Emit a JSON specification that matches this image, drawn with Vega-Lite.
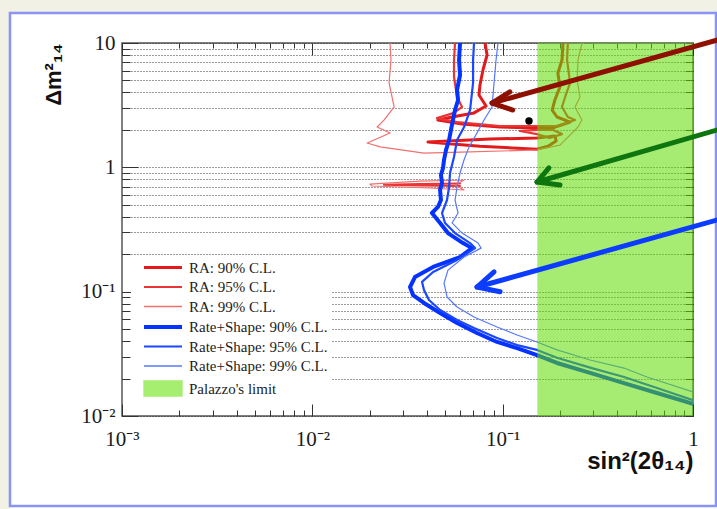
{
  "$schema": "https://vega.github.io/schema/vega-lite/v6.json",
  "width": 571,
  "height": 373,
  "autosize": {"type": "none"},
  "padding": {"left": 122, "top": 43, "right": 24, "bottom": 93},
  "background": "white",
  "view": {"stroke": "#555", "strokeWidth": 1.5},
  "config": {"font": "Liberation Sans"},
  "resolve": {"axis": {"x": "independent", "y": "independent"}},
  "datasets": {
    "strip": [{"x": 0.0002286, "x2": 1.509, "y": 0.001484, "y2": 21.37}],
    "frame": [{"x": 0.0002579, "x2": 1.321, "y": 0.001888, "y2": 17.43}],
    "limit": [{"x": 0.152, "x2": 1, "y": 0.01, "y2": 10}],
    "dot": [{"x": 0.1375, "y": 2.36}],
    "arrows": [
      {"a": "red", "p": "shaft", "i": 0, "x": 1.564, "y": 11.3},
      {"a": "red", "p": "shaft", "i": 1, "x": 0.0879, "y": 3.29},
      {"a": "red", "p": "head", "i": 0, "x": 0.109, "y": 4.04},
      {"a": "red", "p": "head", "i": 1, "x": 0.0879, "y": 3.29},
      {"a": "red", "p": "head", "i": 2, "x": 0.113, "y": 2.89},
      {"a": "green", "p": "shaft", "i": 0, "x": 1.564, "y": 2.14},
      {"a": "green", "p": "shaft", "i": 1, "x": 0.1515, "y": 0.762},
      {"a": "green", "p": "head", "i": 0, "x": 0.175, "y": 0.988},
      {"a": "green", "p": "head", "i": 1, "x": 0.1515, "y": 0.762},
      {"a": "green", "p": "head", "i": 2, "x": 0.2, "y": 0.721},
      {"a": "blue", "p": "shaft", "i": 0, "x": 1.564, "y": 0.403},
      {"a": "blue", "p": "shaft", "i": 1, "x": 0.0733, "y": 0.109},
      {"a": "blue", "p": "head", "i": 0, "x": 0.0901, "y": 0.144},
      {"a": "blue", "p": "head", "i": 1, "x": 0.0733, "y": 0.109},
      {"a": "blue", "p": "head", "i": 2, "x": 0.0969, "y": 0.0999}
    ],
    "contours": [
      {"s": "RA: 90% C.L.", "g": "RA90a", "i": 0, "x": 0.0808, "y": 10},
      {"s": "RA: 90% C.L.", "g": "RA90a", "i": 1, "x": 0.0828, "y": 8.01},
      {"s": "RA: 90% C.L.", "g": "RA90a", "i": 2, "x": 0.0788, "y": 6.07},
      {"s": "RA: 90% C.L.", "g": "RA90a", "i": 3, "x": 0.076, "y": 4.59},
      {"s": "RA: 90% C.L.", "g": "RA90a", "i": 4, "x": 0.0751, "y": 3.82},
      {"s": "RA: 90% C.L.", "g": "RA90a", "i": 5, "x": 0.0818, "y": 3.11},
      {"s": "RA: 90% C.L.", "g": "RA90a", "i": 6, "x": 0.0707, "y": 2.74},
      {"s": "RA: 90% C.L.", "g": "RA90a", "i": 7, "x": 0.0542, "y": 2.54},
      {"s": "RA: 90% C.L.", "g": "RA90a", "i": 8, "x": 0.0457, "y": 2.4},
      {"s": "RA: 90% C.L.", "g": "RA90a", "i": 9, "x": 0.0612, "y": 2.23},
      {"s": "RA: 90% C.L.", "g": "RA90a", "i": 10, "x": 0.0969, "y": 2.11},
      {"s": "RA: 90% C.L.", "g": "RA90a", "i": 11, "x": 0.1515, "y": 2.07},
      {"s": "RA: 90% C.L.", "g": "RA90a", "i": 12, "x": 0.182, "y": 2.07},
      {"s": "RA: 90% C.L.", "g": "RA90a", "i": 13, "x": 0.226, "y": 2.31},
      {"s": "RA: 90% C.L.", "g": "RA90a", "i": 14, "x": 0.193, "y": 2.54},
      {"s": "RA: 90% C.L.", "g": "RA90a", "i": 15, "x": 0.182, "y": 2.89},
      {"s": "RA: 90% C.L.", "g": "RA90a", "i": 16, "x": 0.188, "y": 3.48},
      {"s": "RA: 90% C.L.", "g": "RA90a", "i": 17, "x": 0.2, "y": 4.43},
      {"s": "RA: 90% C.L.", "g": "RA90a", "i": 18, "x": 0.195, "y": 5.74},
      {"s": "RA: 90% C.L.", "g": "RA90a", "i": 19, "x": 0.205, "y": 7.3},
      {"s": "RA: 90% C.L.", "g": "RA90a", "i": 20, "x": 0.2075, "y": 10},
      {"s": "RA: 90% C.L.", "g": "RA90b", "i": 0, "x": 0.1515, "y": 1.72},
      {"s": "RA: 90% C.L.", "g": "RA90b", "i": 1, "x": 0.0858, "y": 1.69},
      {"s": "RA: 90% C.L.", "g": "RA90b", "i": 2, "x": 0.0405, "y": 1.6},
      {"s": "RA: 90% C.L.", "g": "RA90b", "i": 3, "x": 0.076, "y": 1.48},
      {"s": "RA: 90% C.L.", "g": "RA90b", "i": 4, "x": 0.1515, "y": 1.4},
      {"s": "RA: 90% C.L.", "g": "RA90b", "i": 5, "x": 0.173, "y": 1.48},
      {"s": "RA: 90% C.L.", "g": "RA90b", "i": 6, "x": 0.191, "y": 1.63},
      {"s": "RA: 90% C.L.", "g": "RA90b", "i": 7, "x": 0.188, "y": 1.79},
      {"s": "RA: 90% C.L.", "g": "RA90b", "i": 8, "x": 0.167, "y": 1.75},
      {"s": "RA: 90% C.L.", "g": "RA90b", "i": 9, "x": 0.1515, "y": 1.72},
      {"s": "RA: 95% C.L.", "g": "RA95a", "i": 0, "x": 0.0562, "y": 10},
      {"s": "RA: 95% C.L.", "g": "RA95a", "i": 1, "x": 0.0555, "y": 7.3},
      {"s": "RA: 95% C.L.", "g": "RA95a", "i": 2, "x": 0.0555, "y": 5.33},
      {"s": "RA: 95% C.L.", "g": "RA95a", "i": 3, "x": 0.0576, "y": 3.68},
      {"s": "RA: 95% C.L.", "g": "RA95a", "i": 4, "x": 0.0612, "y": 3.06},
      {"s": "RA: 95% C.L.", "g": "RA95a", "i": 5, "x": 0.0555, "y": 2.74},
      {"s": "RA: 95% C.L.", "g": "RA95a", "i": 6, "x": 0.0452, "y": 2.49},
      {"s": "RA: 95% C.L.", "g": "RA95a", "i": 7, "x": 0.0576, "y": 2.31},
      {"s": "RA: 95% C.L.", "g": "RA95a", "i": 8, "x": 0.0969, "y": 2.15},
      {"s": "RA: 95% C.L.", "g": "RA95a", "i": 9, "x": 0.1515, "y": 2.15},
      {"s": "RA: 95% C.L.", "g": "RA95a", "i": 10, "x": 0.193, "y": 2.15},
      {"s": "RA: 95% C.L.", "g": "RA95a", "i": 11, "x": 0.24, "y": 2.4},
      {"s": "RA: 95% C.L.", "g": "RA95a", "i": 12, "x": 0.22, "y": 2.54},
      {"s": "RA: 95% C.L.", "g": "RA95a", "i": 13, "x": 0.205, "y": 3.06},
      {"s": "RA: 95% C.L.", "g": "RA95a", "i": 14, "x": 0.213, "y": 3.68},
      {"s": "RA: 95% C.L.", "g": "RA95a", "i": 15, "x": 0.226, "y": 4.77},
      {"s": "RA: 95% C.L.", "g": "RA95a", "i": 16, "x": 0.218, "y": 7.3},
      {"s": "RA: 95% C.L.", "g": "RA95a", "i": 17, "x": 0.22, "y": 10},
      {"s": "RA: 95% C.L.", "g": "RA95b", "i": 0, "x": 0.1515, "y": 2.0},
      {"s": "RA: 95% C.L.", "g": "RA95b", "i": 1, "x": 0.123, "y": 1.96},
      {"s": "RA: 95% C.L.", "g": "RA95b", "i": 2, "x": 0.1515, "y": 1.85},
      {"s": "RA: 95% C.L.", "g": "RA95b", "i": 3, "x": 0.177, "y": 1.72},
      {"s": "RA: 95% C.L.", "g": "RA95b", "i": 4, "x": 0.205, "y": 1.85},
      {"s": "RA: 95% C.L.", "g": "RA95b", "i": 5, "x": 0.184, "y": 2.0},
      {"s": "RA: 95% C.L.", "g": "RA95b", "i": 6, "x": 0.1515, "y": 2.0},
      {"s": "RA: 95% C.L.", "g": "RA95c", "i": 0, "x": 0.0597, "y": 0.741},
      {"s": "RA: 95% C.L.", "g": "RA95c", "i": 1, "x": 0.0368, "y": 0.732},
      {"s": "RA: 95% C.L.", "g": "RA95c", "i": 2, "x": 0.0238, "y": 0.724},
      {"s": "RA: 95% C.L.", "g": "RA95c", "i": 3, "x": 0.0368, "y": 0.716},
      {"s": "RA: 95% C.L.", "g": "RA95c", "i": 4, "x": 0.0597, "y": 0.708},
      {"s": "RA: 99% C.L.", "g": "RA99a", "i": 0, "x": 0.0256, "y": 10},
      {"s": "RA: 99% C.L.", "g": "RA99a", "i": 1, "x": 0.0259, "y": 7.3},
      {"s": "RA: 99% C.L.", "g": "RA99a", "i": 2, "x": 0.0253, "y": 4.77},
      {"s": "RA: 99% C.L.", "g": "RA99a", "i": 3, "x": 0.0269, "y": 3.06},
      {"s": "RA: 99% C.L.", "g": "RA99a", "i": 4, "x": 0.0238, "y": 2.4},
      {"s": "RA: 99% C.L.", "g": "RA99a", "i": 5, "x": 0.0219, "y": 2.11},
      {"s": "RA: 99% C.L.", "g": "RA99a", "i": 6, "x": 0.0256, "y": 1.89},
      {"s": "RA: 99% C.L.", "g": "RA99a", "i": 7, "x": 0.0211, "y": 1.66},
      {"s": "RA: 99% C.L.", "g": "RA99a", "i": 8, "x": 0.0194, "y": 1.57},
      {"s": "RA: 99% C.L.", "g": "RA99a", "i": 9, "x": 0.0227, "y": 1.46},
      {"s": "RA: 99% C.L.", "g": "RA99a", "i": 10, "x": 0.0386, "y": 1.3},
      {"s": "RA: 99% C.L.", "g": "RA99a", "i": 11, "x": 0.0674, "y": 1.33},
      {"s": "RA: 99% C.L.", "g": "RA99a", "i": 12, "x": 0.1515, "y": 1.38},
      {"s": "RA: 99% C.L.", "g": "RA99a", "i": 13, "x": 0.2, "y": 1.51},
      {"s": "RA: 99% C.L.", "g": "RA99a", "i": 14, "x": 0.249, "y": 2.11},
      {"s": "RA: 99% C.L.", "g": "RA99a", "i": 15, "x": 0.261, "y": 2.4},
      {"s": "RA: 99% C.L.", "g": "RA99a", "i": 16, "x": 0.249, "y": 2.74},
      {"s": "RA: 99% C.L.", "g": "RA99a", "i": 17, "x": 0.24, "y": 3.06},
      {"s": "RA: 99% C.L.", "g": "RA99a", "i": 18, "x": 0.255, "y": 3.68},
      {"s": "RA: 99% C.L.", "g": "RA99a", "i": 19, "x": 0.246, "y": 5.04},
      {"s": "RA: 99% C.L.", "g": "RA99a", "i": 20, "x": 0.249, "y": 7.3},
      {"s": "RA: 99% C.L.", "g": "RA99a", "i": 21, "x": 0.261, "y": 10},
      {"s": "RA: 99% C.L.", "g": "RA99b", "i": 0, "x": 0.0627, "y": 0.791},
      {"s": "RA: 99% C.L.", "g": "RA99b", "i": 1, "x": 0.0368, "y": 0.776},
      {"s": "RA: 99% C.L.", "g": "RA99b", "i": 2, "x": 0.0201, "y": 0.734},
      {"s": "RA: 99% C.L.", "g": "RA99b", "i": 3, "x": 0.0206, "y": 0.708},
      {"s": "RA: 99% C.L.", "g": "RA99b", "i": 4, "x": 0.0415, "y": 0.682},
      {"s": "RA: 99% C.L.", "g": "RA99b", "i": 5, "x": 0.0627, "y": 0.657},
      {"s": "RA: 99% C.L.", "g": "RA99b", "i": 6, "x": 0.0562, "y": 0.721},
      {"s": "RA: 99% C.L.", "g": "RA99b", "i": 7, "x": 0.0627, "y": 0.791},
      {"s": "Rate+Shape: 90% C.L.", "g": "RS90", "i": 0, "x": 0.0597, "y": 10},
      {"s": "Rate+Shape: 90% C.L.", "g": "RS90", "i": 1, "x": 0.059, "y": 7.3},
      {"s": "Rate+Shape: 90% C.L.", "g": "RS90", "i": 2, "x": 0.0597, "y": 5.53},
      {"s": "Rate+Shape: 90% C.L.", "g": "RS90", "i": 3, "x": 0.0576, "y": 4.19},
      {"s": "Rate+Shape: 90% C.L.", "g": "RS90", "i": 4, "x": 0.0583, "y": 3.48},
      {"s": "Rate+Shape: 90% C.L.", "g": "RS90", "i": 5, "x": 0.0562, "y": 2.89},
      {"s": "Rate+Shape: 90% C.L.", "g": "RS90", "i": 6, "x": 0.0548, "y": 2.4},
      {"s": "Rate+Shape: 90% C.L.", "g": "RS90", "i": 7, "x": 0.0535, "y": 2.0},
      {"s": "Rate+Shape: 90% C.L.", "g": "RS90", "i": 8, "x": 0.0523, "y": 1.66},
      {"s": "Rate+Shape: 90% C.L.", "g": "RS90", "i": 9, "x": 0.0504, "y": 1.38},
      {"s": "Rate+Shape: 90% C.L.", "g": "RS90", "i": 10, "x": 0.0492, "y": 1.15},
      {"s": "Rate+Shape: 90% C.L.", "g": "RS90", "i": 11, "x": 0.0486, "y": 0.988},
      {"s": "Rate+Shape: 90% C.L.", "g": "RS90", "i": 12, "x": 0.0474, "y": 0.868},
      {"s": "Rate+Shape: 90% C.L.", "g": "RS90", "i": 13, "x": 0.048, "y": 0.748},
      {"s": "Rate+Shape: 90% C.L.", "g": "RS90", "i": 14, "x": 0.0469, "y": 0.657},
      {"s": "Rate+Shape: 90% C.L.", "g": "RS90", "i": 15, "x": 0.0474, "y": 0.546},
      {"s": "Rate+Shape: 90% C.L.", "g": "RS90", "i": 16, "x": 0.0457, "y": 0.48},
      {"s": "Rate+Shape: 90% C.L.", "g": "RS90", "i": 17, "x": 0.0425, "y": 0.429},
      {"s": "Rate+Shape: 90% C.L.", "g": "RS90", "i": 18, "x": 0.0469, "y": 0.357},
      {"s": "Rate+Shape: 90% C.L.", "g": "RS90", "i": 19, "x": 0.0516, "y": 0.296},
      {"s": "Rate+Shape: 90% C.L.", "g": "RS90", "i": 20, "x": 0.0619, "y": 0.246},
      {"s": "Rate+Shape: 90% C.L.", "g": "RS90", "i": 21, "x": 0.069, "y": 0.224},
      {"s": "Rate+Shape: 90% C.L.", "g": "RS90", "i": 22, "x": 0.0597, "y": 0.19},
      {"s": "Rate+Shape: 90% C.L.", "g": "RS90", "i": 23, "x": 0.0431, "y": 0.158},
      {"s": "Rate+Shape: 90% C.L.", "g": "RS90", "i": 24, "x": 0.0346, "y": 0.131},
      {"s": "Rate+Shape: 90% C.L.", "g": "RS90", "i": 25, "x": 0.0326, "y": 0.109},
      {"s": "Rate+Shape: 90% C.L.", "g": "RS90", "i": 26, "x": 0.0338, "y": 0.094},
      {"s": "Rate+Shape: 90% C.L.", "g": "RS90", "i": 27, "x": 0.0386, "y": 0.0811},
      {"s": "Rate+Shape: 90% C.L.", "g": "RS90", "i": 28, "x": 0.0469, "y": 0.0674},
      {"s": "Rate+Shape: 90% C.L.", "g": "RS90", "i": 29, "x": 0.0576, "y": 0.056},
      {"s": "Rate+Shape: 90% C.L.", "g": "RS90", "i": 30, "x": 0.0733, "y": 0.0465},
      {"s": "Rate+Shape: 90% C.L.", "g": "RS90", "i": 31, "x": 0.0934, "y": 0.0394},
      {"s": "Rate+Shape: 90% C.L.", "g": "RS90", "i": 32, "x": 0.119, "y": 0.0352},
      {"s": "Rate+Shape: 90% C.L.", "g": "RS90", "i": 33, "x": 0.1515, "y": 0.0309},
      {"s": "Rate+Shape: 90% C.L.", "g": "RS90", "i": 34, "x": 0.193, "y": 0.0267},
      {"s": "Rate+Shape: 90% C.L.", "g": "RS90", "i": 35, "x": 0.288, "y": 0.0222},
      {"s": "Rate+Shape: 90% C.L.", "g": "RS90", "i": 36, "x": 0.434, "y": 0.0184},
      {"s": "Rate+Shape: 90% C.L.", "g": "RS90", "i": 37, "x": 0.647, "y": 0.0153},
      {"s": "Rate+Shape: 90% C.L.", "g": "RS90", "i": 38, "x": 1.0, "y": 0.0125},
      {"s": "Rate+Shape: 95% C.L.", "g": "RS95", "i": 0, "x": 0.0707, "y": 10},
      {"s": "Rate+Shape: 95% C.L.", "g": "RS95", "i": 1, "x": 0.0699, "y": 7.3},
      {"s": "Rate+Shape: 95% C.L.", "g": "RS95", "i": 2, "x": 0.0699, "y": 4.77},
      {"s": "Rate+Shape: 95% C.L.", "g": "RS95", "i": 3, "x": 0.0674, "y": 2.89},
      {"s": "Rate+Shape: 95% C.L.", "g": "RS95", "i": 4, "x": 0.0627, "y": 2.11},
      {"s": "Rate+Shape: 95% C.L.", "g": "RS95", "i": 5, "x": 0.0576, "y": 1.66},
      {"s": "Rate+Shape: 95% C.L.", "g": "RS95", "i": 6, "x": 0.0555, "y": 1.21},
      {"s": "Rate+Shape: 95% C.L.", "g": "RS95", "i": 7, "x": 0.0529, "y": 0.9},
      {"s": "Rate+Shape: 95% C.L.", "g": "RS95", "i": 8, "x": 0.0523, "y": 0.695},
      {"s": "Rate+Shape: 95% C.L.", "g": "RS95", "i": 9, "x": 0.051, "y": 0.546},
      {"s": "Rate+Shape: 95% C.L.", "g": "RS95", "i": 10, "x": 0.048, "y": 0.429},
      {"s": "Rate+Shape: 95% C.L.", "g": "RS95", "i": 11, "x": 0.0498, "y": 0.357},
      {"s": "Rate+Shape: 95% C.L.", "g": "RS95", "i": 12, "x": 0.0562, "y": 0.296},
      {"s": "Rate+Shape: 95% C.L.", "g": "RS95", "i": 13, "x": 0.0674, "y": 0.246},
      {"s": "Rate+Shape: 95% C.L.", "g": "RS95", "i": 14, "x": 0.0716, "y": 0.224},
      {"s": "Rate+Shape: 95% C.L.", "g": "RS95", "i": 15, "x": 0.0576, "y": 0.18},
      {"s": "Rate+Shape: 95% C.L.", "g": "RS95", "i": 16, "x": 0.0431, "y": 0.144},
      {"s": "Rate+Shape: 95% C.L.", "g": "RS95", "i": 17, "x": 0.0377, "y": 0.12},
      {"s": "Rate+Shape: 95% C.L.", "g": "RS95", "i": 18, "x": 0.0386, "y": 0.103},
      {"s": "Rate+Shape: 95% C.L.", "g": "RS95", "i": 19, "x": 0.041, "y": 0.0857},
      {"s": "Rate+Shape: 95% C.L.", "g": "RS95", "i": 20, "x": 0.0469, "y": 0.0712},
      {"s": "Rate+Shape: 95% C.L.", "g": "RS95", "i": 21, "x": 0.0576, "y": 0.0592},
      {"s": "Rate+Shape: 95% C.L.", "g": "RS95", "i": 22, "x": 0.0707, "y": 0.051},
      {"s": "Rate+Shape: 95% C.L.", "g": "RS95", "i": 23, "x": 0.0934, "y": 0.0424},
      {"s": "Rate+Shape: 95% C.L.", "g": "RS95", "i": 24, "x": 0.119, "y": 0.0372},
      {"s": "Rate+Shape: 95% C.L.", "g": "RS95", "i": 25, "x": 0.1515, "y": 0.034},
      {"s": "Rate+Shape: 95% C.L.", "g": "RS95", "i": 26, "x": 0.193, "y": 0.0294},
      {"s": "Rate+Shape: 95% C.L.", "g": "RS95", "i": 27, "x": 0.288, "y": 0.0245},
      {"s": "Rate+Shape: 95% C.L.", "g": "RS95", "i": 28, "x": 0.434, "y": 0.0206},
      {"s": "Rate+Shape: 95% C.L.", "g": "RS95", "i": 29, "x": 0.647, "y": 0.0168},
      {"s": "Rate+Shape: 95% C.L.", "g": "RS95", "i": 30, "x": 1.0, "y": 0.0134},
      {"s": "Rate+Shape: 99% C.L.", "g": "RS99", "i": 0, "x": 0.0945, "y": 10},
      {"s": "Rate+Shape: 99% C.L.", "g": "RS99", "i": 1, "x": 0.0923, "y": 7.3},
      {"s": "Rate+Shape: 99% C.L.", "g": "RS99", "i": 2, "x": 0.0901, "y": 4.77},
      {"s": "Rate+Shape: 99% C.L.", "g": "RS99", "i": 3, "x": 0.0879, "y": 3.06},
      {"s": "Rate+Shape: 99% C.L.", "g": "RS99", "i": 4, "x": 0.0798, "y": 2.4},
      {"s": "Rate+Shape: 99% C.L.", "g": "RS99", "i": 5, "x": 0.0733, "y": 1.89},
      {"s": "Rate+Shape: 99% C.L.", "g": "RS99", "i": 6, "x": 0.0666, "y": 1.46},
      {"s": "Rate+Shape: 99% C.L.", "g": "RS99", "i": 7, "x": 0.0627, "y": 1.15},
      {"s": "Rate+Shape: 99% C.L.", "g": "RS99", "i": 8, "x": 0.0597, "y": 0.9},
      {"s": "Rate+Shape: 99% C.L.", "g": "RS99", "i": 9, "x": 0.0576, "y": 0.695},
      {"s": "Rate+Shape: 99% C.L.", "g": "RS99", "i": 10, "x": 0.0562, "y": 0.546},
      {"s": "Rate+Shape: 99% C.L.", "g": "RS99", "i": 11, "x": 0.0583, "y": 0.429},
      {"s": "Rate+Shape: 99% C.L.", "g": "RS99", "i": 12, "x": 0.0542, "y": 0.357},
      {"s": "Rate+Shape: 99% C.L.", "g": "RS99", "i": 13, "x": 0.0612, "y": 0.296},
      {"s": "Rate+Shape: 99% C.L.", "g": "RS99", "i": 14, "x": 0.0742, "y": 0.246},
      {"s": "Rate+Shape: 99% C.L.", "g": "RS99", "i": 15, "x": 0.077, "y": 0.224},
      {"s": "Rate+Shape: 99% C.L.", "g": "RS99", "i": 16, "x": 0.0627, "y": 0.19},
      {"s": "Rate+Shape: 99% C.L.", "g": "RS99", "i": 17, "x": 0.0516, "y": 0.149},
      {"s": "Rate+Shape: 99% C.L.", "g": "RS99", "i": 18, "x": 0.0492, "y": 0.117},
      {"s": "Rate+Shape: 99% C.L.", "g": "RS99", "i": 19, "x": 0.051, "y": 0.0906},
      {"s": "Rate+Shape: 99% C.L.", "g": "RS99", "i": 20, "x": 0.0576, "y": 0.0753},
      {"s": "Rate+Shape: 99% C.L.", "g": "RS99", "i": 21, "x": 0.0707, "y": 0.0626},
      {"s": "Rate+Shape: 99% C.L.", "g": "RS99", "i": 22, "x": 0.0934, "y": 0.052},
      {"s": "Rate+Shape: 99% C.L.", "g": "RS99", "i": 23, "x": 0.119, "y": 0.0448},
      {"s": "Rate+Shape: 99% C.L.", "g": "RS99", "i": 24, "x": 0.1515, "y": 0.0394},
      {"s": "Rate+Shape: 99% C.L.", "g": "RS99", "i": 25, "x": 0.193, "y": 0.034},
      {"s": "Rate+Shape: 99% C.L.", "g": "RS99", "i": 26, "x": 0.288, "y": 0.0282},
      {"s": "Rate+Shape: 99% C.L.", "g": "RS99", "i": 27, "x": 0.434, "y": 0.0243},
      {"s": "Rate+Shape: 99% C.L.", "g": "RS99", "i": 28, "x": 0.573, "y": 0.0206},
      {"s": "Rate+Shape: 99% C.L.", "g": "RS99", "i": 29, "x": 1.0, "y": 0.0156}
    ]
  },
  "layer": [
    {
      "data": {"name": "strip"},
      "mark": {"type": "rect", "filled": false, "stroke": "#f1f1e6", "strokeWidth": 20},
      "encoding": {
        "x": {"field": "x", "type": "quantitative", "scale": {"type": "log", "domain": [0.001, 1], "nice": false}, "axis": null},
        "x2": {"field": "x2"},
        "y": {"field": "y", "type": "quantitative", "scale": {"type": "log", "domain": [0.01, 10], "nice": false}, "axis": null},
        "y2": {"field": "y2"}
      }
    },
    {
      "data": {"name": "frame"},
      "mark": {"type": "rect", "filled": false, "stroke": "#8b93f7", "strokeWidth": 2.5},
      "encoding": {
        "x": {"field": "x", "type": "quantitative", "scale": {"type": "log", "domain": [0.001, 1], "nice": false}, "axis": null},
        "x2": {"field": "x2"},
        "y": {"field": "y", "type": "quantitative", "scale": {"type": "log", "domain": [0.01, 10], "nice": false}, "axis": null},
        "y2": {"field": "y2"}
      }
    },
    {
      "data": {"name": "contours"},
      "mark": {"type": "line", "clip": true, "strokeJoin": "round", "strokeCap": "round"},
      "encoding": {
        "x": {
          "field": "x", "type": "quantitative",
          "scale": {"type": "log", "domain": [0.001, 1], "nice": false},
          "axis": {
            "orient": "bottom",
            "values": [0.001, 0.002, 0.003, 0.004, 0.005, 0.006, 0.007, 0.008, 0.009, 0.01, 0.02, 0.03, 0.04, 0.05, 0.06, 0.07, 0.08, 0.09, 0.1, 0.2, 0.3, 0.4, 0.5, 0.6, 0.7, 0.8, 0.9, 1],
            "labelExpr": "datum.value === 0.001 ? '10⁻³' : datum.value === 0.01 ? '10⁻²' : datum.value === 0.1 ? '10⁻¹' : datum.value === 1 ? '1' : ''",
            "tickSize": {"condition": {"test": "indexof([0.001, 0.01, 0.1, 1], datum.value) >= 0", "value": -12}, "value": -6},
            "tickColor": "#333", "tickWidth": 1,
            "domain": false, "grid": false,
            "labelFont": "Liberation Serif", "labelFontSize": 21, "labelColor": "#1a1a1a",
            "labelPadding": 24, "labelFlush": false, "labelOverlap": false, "labelBound": false,
            "title": "sin²(2θ₁₄)", "titleFont": "Liberation Sans", "titleFontSize": 24, "titleFontWeight": "bold", "titleColor": "#111",
            "titleAnchor": "end", "titleAlign": "right", "titleBaseline": "alphabetic", "titleX": 571, "titleY": 52
          }
        },
        "y": {
          "field": "y", "type": "quantitative",
          "scale": {"type": "log", "domain": [0.01, 10], "nice": false},
          "axis": {
            "orient": "left",
            "values": [0.01, 0.02, 0.03, 0.04, 0.05, 0.06, 0.07, 0.08, 0.09, 0.1, 0.2, 0.3, 0.4, 0.5, 0.6, 0.7, 0.8, 0.9, 1, 2, 3, 4, 5, 6, 7, 8, 9, 10],
            "labelExpr": "datum.value === 10 ? '10' : datum.value === 1 ? '1' : datum.value === 0.1 ? '10⁻¹' : datum.value === 0.01 ? '10⁻²' : ''",
            "tickSize": {"condition": {"test": "indexof([0.01, 0.1, 1, 10], datum.value) >= 0", "value": -16}, "value": -8},
            "tickColor": "#333", "tickWidth": 1,
            "domain": false,
            "grid": true, "gridDash": [1, 2], "gridColor": "#222", "gridWidth": 1, "gridOpacity": 0.9,
            "labelFont": "Liberation Serif", "labelFontSize": 21, "labelColor": "#1a1a1a",
            "labelPadding": 23, "labelFlush": false, "labelOverlap": false, "labelBound": false,
            "title": "Δm²₁₄", "titleFont": "Liberation Sans", "titleFontSize": 22, "titleFontWeight": "bold", "titleColor": "#111",
            "titleAngle": 270, "titleAlign": "right", "titleBaseline": "alphabetic", "titleX": -62, "titleY": 0
          }
        },
        "color": {
          "field": "s", "type": "nominal",
          "scale": {
            "domain": ["RA: 90% C.L.", "RA: 95% C.L.", "RA: 99% C.L.", "Rate+Shape: 90% C.L.", "Rate+Shape: 95% C.L.", "Rate+Shape: 99% C.L.", "Palazzo's limit"],
            "range": ["#e31a1c", "#e83535", "#f07070", "#0433ff", "#1a47ff", "#5577ff", "#a6ee70"]
          },
          "legend": {
            "title": null, "orient": "none", "legendX": 9, "legendY": 214,
            "padding": 3, "fillColor": "white",
            "labelFont": "Liberation Serif", "labelFontSize": 15, "labelColor": "#222",
            "symbolSize": 361, "symbolOffset": 12, "labelOffset": 28, "rowPadding": 3.5,
            "symbolType": "M-1,0H3",
            "encode": {
              "symbols": {
                "update": {
                  "shape": {"signal": "datum.index === 6 ? 'M-1,-0.79H3V0.79H-1Z' : 'M-1,0H3'"},
                  "strokeWidth": {"signal": "datum.index === 3 ? 4 : datum.index === 0 ? 3.2 : (datum.index === 1 || datum.index === 4) ? 2.2 : 1.4"},
                  "fill": {"signal": "datum.index === 6 ? '#a6ee70' : 'transparent'"},
                  "stroke": {"signal": "datum.index === 6 ? '#222' : datum.index === 0 ? '#e31a1c' : datum.index === 1 ? '#e83535' : datum.index === 2 ? '#f07070' : datum.index === 3 ? '#0433ff' : datum.index === 4 ? '#1a47ff' : '#5577ff'"}
                }
              }
            }
          }
        },
        "detail": {"field": "g", "type": "nominal"},
        "order": {"field": "i", "type": "quantitative"},
        "strokeWidth": {
          "condition": [
            {"test": "datum.s === 'Rate+Shape: 90% C.L.'", "value": 4},
            {"test": "datum.s === 'RA: 90% C.L.'", "value": 3},
            {"test": "datum.s === 'Rate+Shape: 95% C.L.' || datum.s === 'RA: 95% C.L.'", "value": 2.2}
          ],
          "value": 1.2
        }
      }
    },
    {
      "data": {"name": "limit"},
      "mark": {"type": "rect", "color": "#5ddc00", "opacity": 0.55},
      "encoding": {
        "x": {
          "field": "x", "type": "quantitative",
          "scale": {"type": "log", "domain": [0.001, 1], "nice": false},
          "axis": {
            "orient": "top",
            "values": [0.001, 0.002, 0.003, 0.004, 0.005, 0.006, 0.007, 0.008, 0.009, 0.01, 0.02, 0.03, 0.04, 0.05, 0.06, 0.07, 0.08, 0.09, 0.1, 0.2, 0.3, 0.4, 0.5, 0.6, 0.7, 0.8, 0.9, 1],
            "labels": false, "domain": false, "grid": false, "title": null,
            "tickSize": {"condition": {"test": "indexof([0.001, 0.01, 0.1, 1], datum.value) >= 0", "value": -12}, "value": -5},
            "tickColor": "#333", "tickWidth": 1
          }
        },
        "x2": {"field": "x2"},
        "y": {
          "field": "y", "type": "quantitative",
          "scale": {"type": "log", "domain": [0.01, 10], "nice": false},
          "axis": {
            "orient": "right",
            "values": [0.01, 0.02, 0.03, 0.04, 0.05, 0.06, 0.07, 0.08, 0.09, 0.1, 0.2, 0.3, 0.4, 0.5, 0.6, 0.7, 0.8, 0.9, 1, 2, 3, 4, 5, 6, 7, 8, 9, 10],
            "labels": false, "domain": false, "grid": false, "title": null,
            "tickSize": -8, "tickColor": "#333", "tickWidth": 1
          }
        },
        "y2": {"field": "y2"}
      }
    },
    {
      "data": {"name": "dot"},
      "mark": {"type": "point", "filled": true, "color": "black", "size": 55, "opacity": 1},
      "encoding": {
        "x": {"field": "x", "type": "quantitative", "scale": {"type": "log", "domain": [0.001, 1], "nice": false}, "axis": null},
        "y": {"field": "y", "type": "quantitative", "scale": {"type": "log", "domain": [0.01, 10], "nice": false}, "axis": null}
      }
    },
    {
      "data": {"name": "arrows"},
      "transform": [{"filter": "datum.a === 'red'"}],
      "mark": {"type": "line", "color": "#8e1000", "strokeWidth": 5, "strokeCap": "round", "strokeJoin": "round"},
      "encoding": {
        "x": {"field": "x", "type": "quantitative", "scale": {"type": "log", "domain": [0.001, 1], "nice": false}, "axis": null},
        "y": {"field": "y", "type": "quantitative", "scale": {"type": "log", "domain": [0.01, 10], "nice": false}, "axis": null},
        "detail": {"field": "p", "type": "nominal"},
        "order": {"field": "i", "type": "quantitative"}
      }
    },
    {
      "data": {"name": "arrows"},
      "transform": [{"filter": "datum.a === 'green'"}],
      "mark": {"type": "line", "color": "#0f760f", "strokeWidth": 5, "strokeCap": "round", "strokeJoin": "round"},
      "encoding": {
        "x": {"field": "x", "type": "quantitative", "scale": {"type": "log", "domain": [0.001, 1], "nice": false}, "axis": null},
        "y": {"field": "y", "type": "quantitative", "scale": {"type": "log", "domain": [0.01, 10], "nice": false}, "axis": null},
        "detail": {"field": "p", "type": "nominal"},
        "order": {"field": "i", "type": "quantitative"}
      }
    },
    {
      "data": {"name": "arrows"},
      "transform": [{"filter": "datum.a === 'blue'"}],
      "mark": {"type": "line", "color": "#0c3cff", "strokeWidth": 5, "strokeCap": "round", "strokeJoin": "round"},
      "encoding": {
        "x": {"field": "x", "type": "quantitative", "scale": {"type": "log", "domain": [0.001, 1], "nice": false}, "axis": null},
        "y": {"field": "y", "type": "quantitative", "scale": {"type": "log", "domain": [0.01, 10], "nice": false}, "axis": null},
        "detail": {"field": "p", "type": "nominal"},
        "order": {"field": "i", "type": "quantitative"}
      }
    }
  ]
}
